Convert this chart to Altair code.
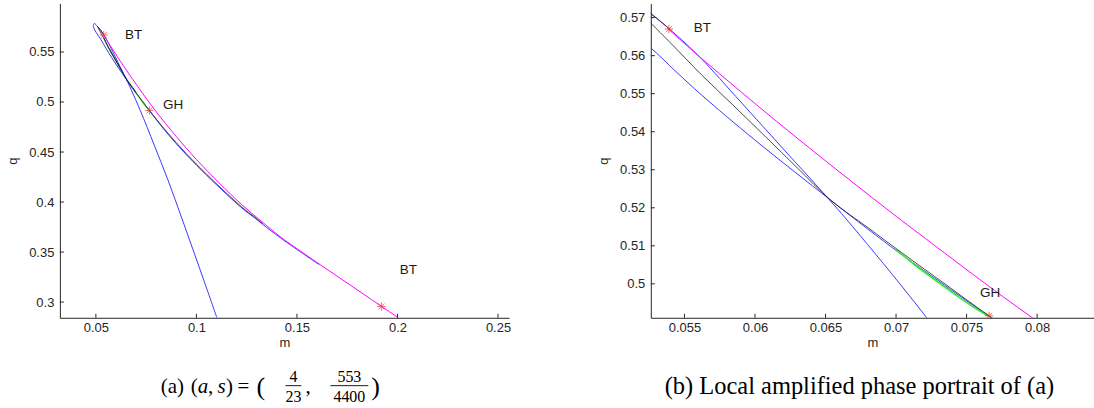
import altair as alt
import pandas as pd

# ---------------- curve data (m, q) ----------------
# blue branch A: loop apex -> BT -> steep line to bottom
blueA_m = [0.0493, 0.0500, 0.0512, 0.0526, 0.0540, 0.0552, 0.0562, 0.0590, 0.0620, 0.0653,
           0.0675, 0.07215, 0.0790, 0.0858, 0.0920, 0.0983, 0.1040, 0.1102]
blueA_q = [0.5787, 0.5774, 0.5745, 0.5711, 0.5668, 0.5628, 0.5592, 0.5478, 0.5355, 0.5220,
           0.5125, 0.4912, 0.4570, 0.4223, 0.3880, 0.3524, 0.3200, 0.2843]
# blue branch B: loop apex (left side) -> crossing -> GH -> trunk -> onto magenta
blueB_m = [0.0493, 0.0489, 0.04875, 0.0492, 0.0502, 0.0514, 0.0526, 0.0544, 0.0562, 0.0600,
           0.0653, 0.0680, 0.0704, 0.0735, 0.0766, 0.0850, 0.0950, 0.1050, 0.1150, 0.1225,
           0.1292, 0.1350, 0.1425, 0.1510, 0.1610]
blueB_q = [0.5787, 0.5775, 0.5757, 0.5730, 0.5693, 0.5656, 0.5621, 0.5558, 0.5497, 0.5378,
           0.5222, 0.5144, 0.5077, 0.4995, 0.4914, 0.4698, 0.4473, 0.4269, 0.4078, 0.3942,
           0.3838, 0.3745, 0.3632, 0.3512, 0.3375]
# black curve
black_m = [0.0540, 0.0526, 0.0515, 0.0510, 0.0513, 0.0526, 0.0540, 0.0562, 0.0585, 0.0608,
           0.0630, 0.0654, 0.0680, 0.0704, 0.0735, 0.0766, 0.0850, 0.0950, 0.1050, 0.1150,
           0.1225, 0.1292, 0.1330]
black_q = [0.5668, 0.5711, 0.5740, 0.5748, 0.5734, 0.5686, 0.5634, 0.5550, 0.5468, 0.5385,
           0.5305, 0.5219, 0.5148, 0.5082, 0.4999, 0.4916, 0.4708, 0.4483, 0.4279, 0.4088,
           0.3952, 0.3846, 0.3785]
# magenta curve: BT -> lower BT -> axis
magenta_m = [0.0538, 0.0562, 0.0623, 0.0684, 0.0717, 0.0797, 0.0900, 0.1000, 0.1111, 0.1225,
             0.1325, 0.1425, 0.1510, 0.1600, 0.1725, 0.1820, 0.1920, 0.2005]
magenta_q = [0.5672, 0.5593, 0.5404, 0.5224, 0.5130, 0.4910, 0.4655, 0.4425, 0.4195, 0.3975,
             0.3805, 0.3640, 0.3520, 0.3395, 0.3225, 0.3095, 0.2958, 0.2842]
# green curve near GH
green_m = [0.0700, 0.0715, 0.0730, 0.0745, 0.0757, 0.0766]
green_q = [0.5090, 0.5045, 0.5004, 0.4964, 0.4934, 0.4914]
# green along the black between BT and GH (visible in the overview only)
greenL_m = [0.0540, 0.0562, 0.0585, 0.0608, 0.0630, 0.0654, 0.0680, 0.0700]
greenL_q = [0.5640, 0.5545, 0.5462, 0.5383, 0.5306, 0.5224, 0.5150, 0.5093]

# special points (red asterisks)
starL_m = [0.0539, 0.0766, 0.1920]
starL_q = [0.5670, 0.4916, 0.2956]
starR_m = [0.0539, 0.0766]
starR_q = [0.5670, 0.4916]

# point labels
labL_t = ["BT", "GH", "BT"]
labL_m = [0.0645, 0.0834, 0.2011]
labL_q = [0.5674, 0.4974, 0.3323]
labR_t = ["BT", "GH"]
labR_m = [0.05566, 0.07596]
labR_q = [0.5673, 0.4977]

# axis ticks
xticksL = [0.05, 0.1, 0.15, 0.2, 0.25]
yticksL = [0.3, 0.35, 0.4, 0.45, 0.5, 0.55]
xticksR = [0.055, 0.06, 0.065, 0.07, 0.075, 0.08]
yticksR = [0.5, 0.51, 0.52, 0.53, 0.54, 0.55, 0.56, 0.57]

# captions
capA_parts = ["(a)", "(", "a", ",", "s", ")", "=", "(", "4", "23", ",", "553", "4400", ")"]
capB_text = "(b) Local amplified phase portrait of (a)"

# ---------------- styling ----------------
AX = "#262626"
BLUE = "#3a3aff"
MAG = "#ff00ff"
BLACK = "#111111"
GREEN = "#33ee33"
OLIVE = "#3f7a3f"
AST = "M0,-1L0,1M-1,0L1,0M-0.7,-0.7L0.7,0.7M-0.7,0.7L0.7,-0.7"
CAPFONT = "Liberation Serif"


def curve(m, q):
    return pd.DataFrame({"m": m, "q": q, "o": list(range(len(m)))})


def panel(xdom, ydom, xt, yt, W, H, curves, st_m, st_q, lb_t, lb_m, lb_q, extra):
    xenc = alt.X("m:Q", scale=alt.Scale(domain=xdom, nice=False, zero=False),
                 axis=alt.Axis(values=xt, format="~g", title="m", labelPadding=4,
                               titlePadding=2, labelFlush=False, labelOverlap=False))
    yenc = alt.Y("q:Q", scale=alt.Scale(domain=ydom, nice=False, zero=False),
                 axis=alt.Axis(values=yt, format="~g", title="q", labelPadding=6,
                               titlePadding=9, labelFlush=False, labelOverlap=False))
    layers = []
    for (m, q, col, sw, op) in curves:
        layers.append(alt.Chart(curve(m, q)).mark_line(
            clip=True, color=col, strokeWidth=sw, opacity=op, interpolate="catmull-rom"
        ).encode(x=xenc, y=yenc, order="o:Q"))
    # inward ticks
    layers.append(alt.Chart(pd.DataFrame({"m": xt})).mark_rule(color=AX, strokeWidth=1).encode(
        x=xenc, y=alt.value(H), y2=alt.value(H - 4)))
    layers.append(alt.Chart(pd.DataFrame({"q": yt})).mark_rule(color=AX, strokeWidth=1).encode(
        y=yenc, x=alt.value(0), x2=alt.value(4)))
    layers.append(alt.Chart(pd.DataFrame({"m": st_m, "q": st_q})).mark_point(
        shape=AST, size=70, color="#ff2a2a", filled=False, strokeWidth=1, clip=True).encode(
        x=xenc, y=yenc))
    layers.append(alt.Chart(pd.DataFrame({"m": lb_m, "q": lb_q, "t": lb_t})).mark_text(
        align="left", baseline="middle", font="Liberation Sans", fontSize=13.5,
        color="#1a1a1a").encode(x=xenc, y=yenc, text="t:N"))
    layers += extra
    return alt.layer(*layers).properties(width=W, height=H)


def ctext(t, x, y, size=21, style="normal", align="left"):
    return alt.Chart(pd.DataFrame({"t": [t]})).mark_text(
        align=align, baseline="middle", font=CAPFONT, fontSize=size, fontStyle=style,
        color="black").encode(x=alt.value(x), y=alt.value(y), text="t:N")


def cbar(x1, x2, y):
    return alt.Chart(pd.DataFrame({"t": [0]})).mark_rule(color="black", strokeWidth=0.9).encode(
        x=alt.value(x1), x2=alt.value(x2), y=alt.value(y))


H = 315
yc = 384
capA = [
    ctext(capA_parts[0], 101, yc),
    ctext(capA_parts[1], 131, yc),
    ctext(capA_parts[2], 138, yc, style="italic"),
    ctext(capA_parts[3], 148.5, yc),
    ctext(capA_parts[4], 158, yc, style="italic"),
    ctext(capA_parts[5], 166.5, yc),
    ctext(capA_parts[6], 178, yc),
    ctext(capA_parts[7], 197, yc, size=26),
    ctext(capA_parts[8], 234, yc - 10, size=16, align="center"),
    ctext(capA_parts[9], 234, yc + 10, size=16, align="center"),
    cbar(226, 242, yc - 1),
    ctext(capA_parts[10], 246, yc),
    ctext(capA_parts[11], 290, yc - 10, size=16, align="center"),
    ctext(capA_parts[12], 290, yc + 10, size=16, align="center"),
    cbar(271, 309, yc - 1),
    ctext(capA_parts[13], 312, yc, size=26),
]
capB = [ctext(capB_text, 209, yc, size=24.5, align="center")]

left = panel([0.0321, 0.2555], [0.2843, 0.5986], xticksL, yticksL, 450, H,
             [(greenL_m, greenL_q, OLIVE, 1.2, 1.0),
              (blueA_m, blueA_q, BLUE, 1.0, 1.0),
              (blueB_m, blueB_q, BLUE, 1.0, 1.0),
              (magenta_m, magenta_q, MAG, 1.0, 1.0),
              (green_m, green_q, GREEN, 1.2, 1.0),
              (black_m, black_q, BLACK, 1.0, 0.75)],
             starL_m, starL_q, labL_t, labL_m, labL_q, capA)

right = panel([0.052615, 0.084033], [0.49108, 0.57375], xticksR, yticksR, 444, H,
              [(blueA_m, blueA_q, BLUE, 1.0, 1.0),
               (blueB_m, blueB_q, BLUE, 1.0, 1.0),
               (magenta_m, magenta_q, MAG, 1.0, 1.0),
               (green_m, green_q, GREEN, 1.6, 1.0),
               (black_m, black_q, BLACK, 1.0, 0.75)],
              starR_m, starR_q, labR_t, labR_m, labR_q, capB)

chart = alt.hconcat(left, right, spacing=86).configure(
    padding={"left": 6, "top": 3, "right": 0, "bottom": 0}
).configure_view(stroke=None).configure_axis(
    domainColor=AX, domainWidth=1, ticks=False, grid=False,
    labelFont="Liberation Sans", labelFontSize=13, labelColor=AX,
    titleFont="Liberation Sans", titleFontSize=13, titleFontWeight="normal", titleColor=AX,
)

chart.save("out.html", embed_options={"renderer": "svg", "actions": False})
